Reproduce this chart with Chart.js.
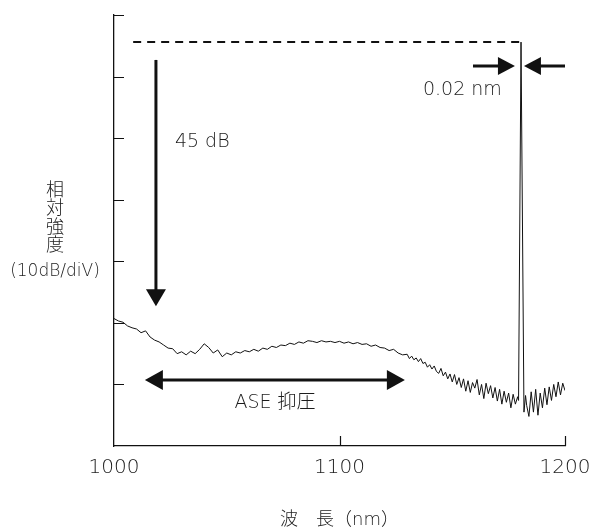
<!DOCTYPE html>
<html>
<head>
<meta charset="utf-8">
<script src="https://cdn.jsdelivr.net/npm/chart.js@4.4.0/dist/chart.umd.min.js"></script>
<style>
  html, body { margin: 0; padding: 0; background: #fff; }
  #wrap { width: 595px; height: 528px; }
</style>
</head>
<body>
<div id="wrap"><canvas id="spectrum" width="595" height="528"></canvas></div>
<script>
// wavelength (nm) and relative intensity (dB)
const wavelengths = [
  1000, 1002, 1004, 1006, 1008, 1010, 1012, 1014, 1016, 1018,
  1020, 1022, 1024, 1026, 1028, 1030, 1032, 1034, 1036, 1038,
  1040, 1042, 1044, 1046, 1048, 1050, 1052, 1054, 1056, 1058,
  1060, 1062, 1064, 1066, 1068, 1070, 1072, 1074, 1076, 1078,
  1080, 1082, 1084, 1086, 1088, 1090, 1092, 1094, 1096, 1098,
  1100, 1102, 1104, 1106, 1108, 1110, 1112, 1114, 1116, 1118,
  1120, 1122, 1124, 1126, 1128, 1130,
  1131, 1132, 1133, 1134, 1135, 1136, 1137, 1138, 1139, 1140,
  1141, 1142, 1143, 1144, 1145, 1146, 1147, 1148, 1149, 1150,
  1151, 1152, 1153, 1154, 1155, 1156, 1157, 1158, 1159, 1160,
  1161, 1162, 1163, 1164, 1165, 1166, 1167, 1168, 1169, 1170,
  1171, 1172, 1173, 1174, 1175, 1176, 1177, 1178, 1179, 1179.4,
  1180.5, 1181.8,
  1182.5, 1183, 1184, 1185, 1186, 1187, 1188, 1189, 1190,
  1191, 1192, 1193, 1194, 1195, 1196, 1197, 1198, 1199, 1200
];
const intensity = [
  -49.3, -49.7, -49.9, -50.5, -50.8, -51.0, -51.6, -51.3, -52.3, -52.8,
  -53.1, -53.6, -54.1, -54.2, -55.0, -54.7, -55.2, -54.6, -55.0, -54.3,
  -53.4, -54.0, -54.9, -54.4, -55.5, -54.9, -55.2, -54.7, -54.9, -54.5,
  -54.7, -54.3, -54.6, -54.1, -54.3, -53.8, -54.0, -53.6, -53.7, -53.3,
  -53.5, -53.1, -53.3, -52.9, -53.0, -53.2, -52.9, -53.1, -53.0, -53.2,
  -53.0, -53.3, -53.1, -53.4, -53.2, -53.5, -53.4, -53.8, -53.6, -54.0,
  -54.1, -54.5, -54.3, -54.9, -55.2, -55.1,
  -55.8, -55.4, -56.0, -55.7, -56.3, -55.8, -56.6, -56.4, -57.2, -56.8,
  -57.5, -57.0, -57.9, -58.2, -57.4, -58.6, -58.0, -59.1, -58.3, -59.6,
  -58.4, -60.0, -58.9, -60.5, -59.1, -61.1, -59.4, -61.3, -59.7, -60.6,
  -59.2, -61.7, -60.0, -62.3, -59.8, -61.5, -60.2, -62.2, -60.5, -62.7,
  -60.8, -63.2, -61.1, -62.9, -61.4, -63.8, -61.6, -63.2, -62.0, -62.6,
  -4.4, -64.5,
  -61.8, -63.4, -65.2, -61.2, -64.5, -60.8, -65.0, -61.4, -63.8,
  -60.6, -63.3, -60.4, -62.6, -60.0, -62.0, -59.6, -61.7, -59.8, -61.0
];
const xTicks = [1000, 1100, 1200];
const yTicks = [0, -10, -20, -30, -40, -50, -60, -70];

const FONT = '"DejaVu Sans", "Noto Sans CJK JP", sans-serif';
const INK = '#111';
const TEXT = '#1c1c1c';

function arrowHead(ctx, tx, ty, dx, dy, len, half) {
  // tip at (tx,ty), pointing in direction (dx,dy)
  const px = -dy, py = dx;
  ctx.beginPath();
  ctx.moveTo(tx, ty);
  ctx.lineTo(tx - dx * len + px * half, ty - dy * len + py * half);
  ctx.lineTo(tx - dx * len - px * half, ty - dy * len - py * half);
  ctx.closePath();
  ctx.fill();
}

const annotate = {
  id: 'annotate',
  afterDraw(chart) {
    const ctx = chart.ctx;
    const xs = chart.scales.x, ys = chart.scales.y;
    const X = v => xs.getPixelForValue(v);
    const Y = v => ys.getPixelForValue(v);
    ctx.save();
    ctx.strokeStyle = INK;
    ctx.fillStyle = INK;

    // inward tick marks
    ctx.lineWidth = 1.2;
    ctx.beginPath();
    yTicks.forEach(t => {
      if (t === -70) return;
      ctx.moveTo(xs.left, Math.round(Y(t)) + 0.5);
      ctx.lineTo(xs.left + 10, Math.round(Y(t)) + 0.5);
    });
    xTicks.forEach(t => {
      if (t === 1000) return;
      ctx.moveTo(Math.round(X(t)) + 0.5, ys.bottom);
      ctx.lineTo(Math.round(X(t)) + 0.5, ys.bottom - 10);
    });
    ctx.stroke();

    // dashed peak level line
    ctx.lineWidth = 2;
    ctx.setLineDash([8, 6]);
    ctx.beginPath();
    ctx.moveTo(X(1008.5), Y(-4.4));
    ctx.lineTo(X(1180.5), Y(-4.4));
    ctx.stroke();
    ctx.setLineDash([]);

    // 45 dB vertical arrow
    ctx.lineWidth = 3;
    const vx = X(1018.6);
    ctx.beginPath();
    ctx.moveTo(vx, Y(-7.3));
    ctx.lineTo(vx, Y(-47.3) - 12);
    ctx.stroke();
    arrowHead(ctx, vx, Y(-47.3), 0, 1, 17, 10);

    // ASE double arrow
    const ay = Y(-59.3);
    const a1 = X(1013.7), a2 = X(1129);
    ctx.beginPath();
    ctx.moveTo(a1 + 12, ay);
    ctx.lineTo(a2 - 12, ay);
    ctx.stroke();
    arrowHead(ctx, a1, ay, -1, 0, 18, 10);
    arrowHead(ctx, a2, ay, 1, 0, 18, 10);

    // linewidth arrows around the peak
    const sy = Y(-8.3);
    ctx.beginPath();
    ctx.moveTo(X(1159.2), sy);
    ctx.lineTo(X(1177.8) - 10, sy);
    ctx.moveTo(X(1200), sy);
    ctx.lineTo(X(1181.8) + 10, sy);
    ctx.stroke();
    arrowHead(ctx, X(1177.8), sy, 1, 0, 17, 9);
    arrowHead(ctx, X(1181.8), sy, -1, 0, 17, 9);

    // texts
    ctx.fillStyle = TEXT;
    ctx.textBaseline = 'middle';
    ctx.font = '300 19px ' + FONT;
    ctx.textAlign = 'left';
    ctx.fillText('45 dB', X(1027), Y(-20.6));
    ctx.fillText('0.02 nm', X(1137), Y(-12.2));
    ctx.textAlign = 'center';
    ctx.fillText('ASE 抑圧', X(1071.4), Y(-63.0));

    // axis titles
    ctx.font = '300 18px ' + FONT;
    ['相', '対', '強', '度'].forEach((ch, i) => ctx.fillText(ch, 55, 191 + i * 18.5));
    ctx.font = '300 17px ' + FONT;
    ctx.fillText('(10dB/diV)', 55, 272);
    ctx.font = '300 18px ' + FONT;
    ctx.fillText('波　長（nm）', X(1100), 520);
    ctx.restore();
  }
};

new Chart(document.getElementById('spectrum'), {
  type: 'line',
  data: {
    datasets: [{
      data: wavelengths.map((w, i) => ({ x: w, y: intensity[i] })),
      borderColor: INK,
      borderWidth: 1,
      pointRadius: 0,
      tension: 0,
      fill: false
    }]
  },
  options: {
    responsive: false,
    animation: false,
    devicePixelRatio: 1,
    layout: { padding: { left: 114, right: 30, top: 15, bottom: 0 } },
    plugins: { legend: { display: false }, tooltip: { enabled: false } },
    scales: {
      x: {
        type: 'linear',
        min: 1000, max: 1200,
        afterBuildTicks: s => { s.ticks = xTicks.map(v => ({ value: v })); },
        afterFit: s => { s.height = 82; s.paddingLeft = 0; s.paddingRight = 0; },
        ticks: {
          color: TEXT,
          font: { family: FONT, size: 20, weight: 300 },
          padding: 10,
          maxRotation: 0,
          callback: v => String(v)
        },
        grid: { drawOnChartArea: false, drawTicks: false },
        border: { color: INK, width: 1.3 }
      },
      y: {
        min: -70, max: 0,
        afterBuildTicks: s => { s.ticks = yTicks.map(v => ({ value: v })); },
        afterFit: s => { s.width = 0; s.paddingTop = 0; s.paddingBottom = 0; },
        ticks: { display: false },
        grid: { drawOnChartArea: false, drawTicks: false },
        border: { color: INK, width: 1.3 }
      }
    }
  },
  plugins: [annotate]
});
</script>
</body>
</html>
